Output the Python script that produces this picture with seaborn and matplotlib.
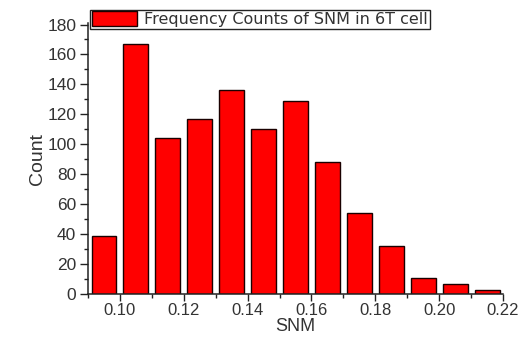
import matplotlib
matplotlib.use("Agg")
import matplotlib.pyplot as plt
import seaborn as sns
import pandas as pd
import numpy as np
from matplotlib.ticker import MultipleLocator, FormatStrFormatter

snm_bins = [0.095, 0.105, 0.115, 0.125, 0.135, 0.145, 0.155, 0.165, 0.175, 0.185, 0.195, 0.205, 0.215]
counts = [39, 167, 104, 117, 136, 110, 129, 88, 54, 32, 11, 7, 3]
x_ticks = [0.10, 0.12, 0.14, 0.16, 0.18, 0.20, 0.22]
y_ticks = [0, 20, 40, 60, 80, 100, 120, 140, 160, 180]
legend_label = "Frequency Counts of SNM in 6T cell"

sns.set_style("ticks")
plt.rcParams['font.family'] = ['Liberation Sans', 'DejaVu Sans']

df = pd.DataFrame({"SNM": snm_bins, "Count": counts})

fig = plt.figure(figsize=(5.28, 3.40), dpi=100)
ax = fig.add_axes([0.1667, 0.1353, 0.7860, 0.7970])

sns.barplot(data=df, x="SNM", y="Count", native_scale=True, width=0.78,
            color="#ff0000", saturation=1, edgecolor="#1a0000", linewidth=1.0,
            label=legend_label, ax=ax)

ax.set_xlim(0.09, 0.22)
ax.set_ylim(0, 181)
ax.set_xticks(x_ticks)
ax.set_yticks(y_ticks)
ax.xaxis.set_major_formatter(FormatStrFormatter('%.2f'))
ax.xaxis.set_minor_locator(MultipleLocator(0.01))
ax.yaxis.set_minor_locator(MultipleLocator(10))
ax.tick_params(axis='both', which='major', direction='out', length=5.5, width=1.0,
               labelsize=12.5, colors='#222222', labelcolor='#333333', pad=3)
ax.tick_params(axis='x', which='major', labelsize=12, pad=1.5, length=5)
ax.tick_params(axis='both', which='minor', direction='out', length=3, width=1.0, colors='#222222')
for s in ['top', 'right']:
    ax.spines[s].set_visible(False)
for s in ['left', 'bottom']:
    ax.spines[s].set_linewidth(1.1)
    ax.spines[s].set_color('#222222')

ax.set_xlabel("SNM", fontsize=13, color='#333333', labelpad=0)
ax.set_ylabel("Count", fontsize=14, color='#333333', labelpad=1)

leg = ax.legend(loc='upper left', bbox_to_anchor=(0.1705, 0.972), bbox_transform=fig.transFigure,
                prop={'family': 'DejaVu Sans', 'size': 11.5},
                frameon=True, fancybox=False, handlelength=2.8, handleheight=1.0,
                borderpad=0.12, handletextpad=0.45, borderaxespad=0)
leg.get_frame().set_edgecolor('#222222')
leg.get_frame().set_linewidth(1.0)
leg.get_frame().set_alpha(1)
for t in leg.get_texts():
    t.set_color('#333333')

fig.savefig("out.png", dpi=100, facecolor='white')
